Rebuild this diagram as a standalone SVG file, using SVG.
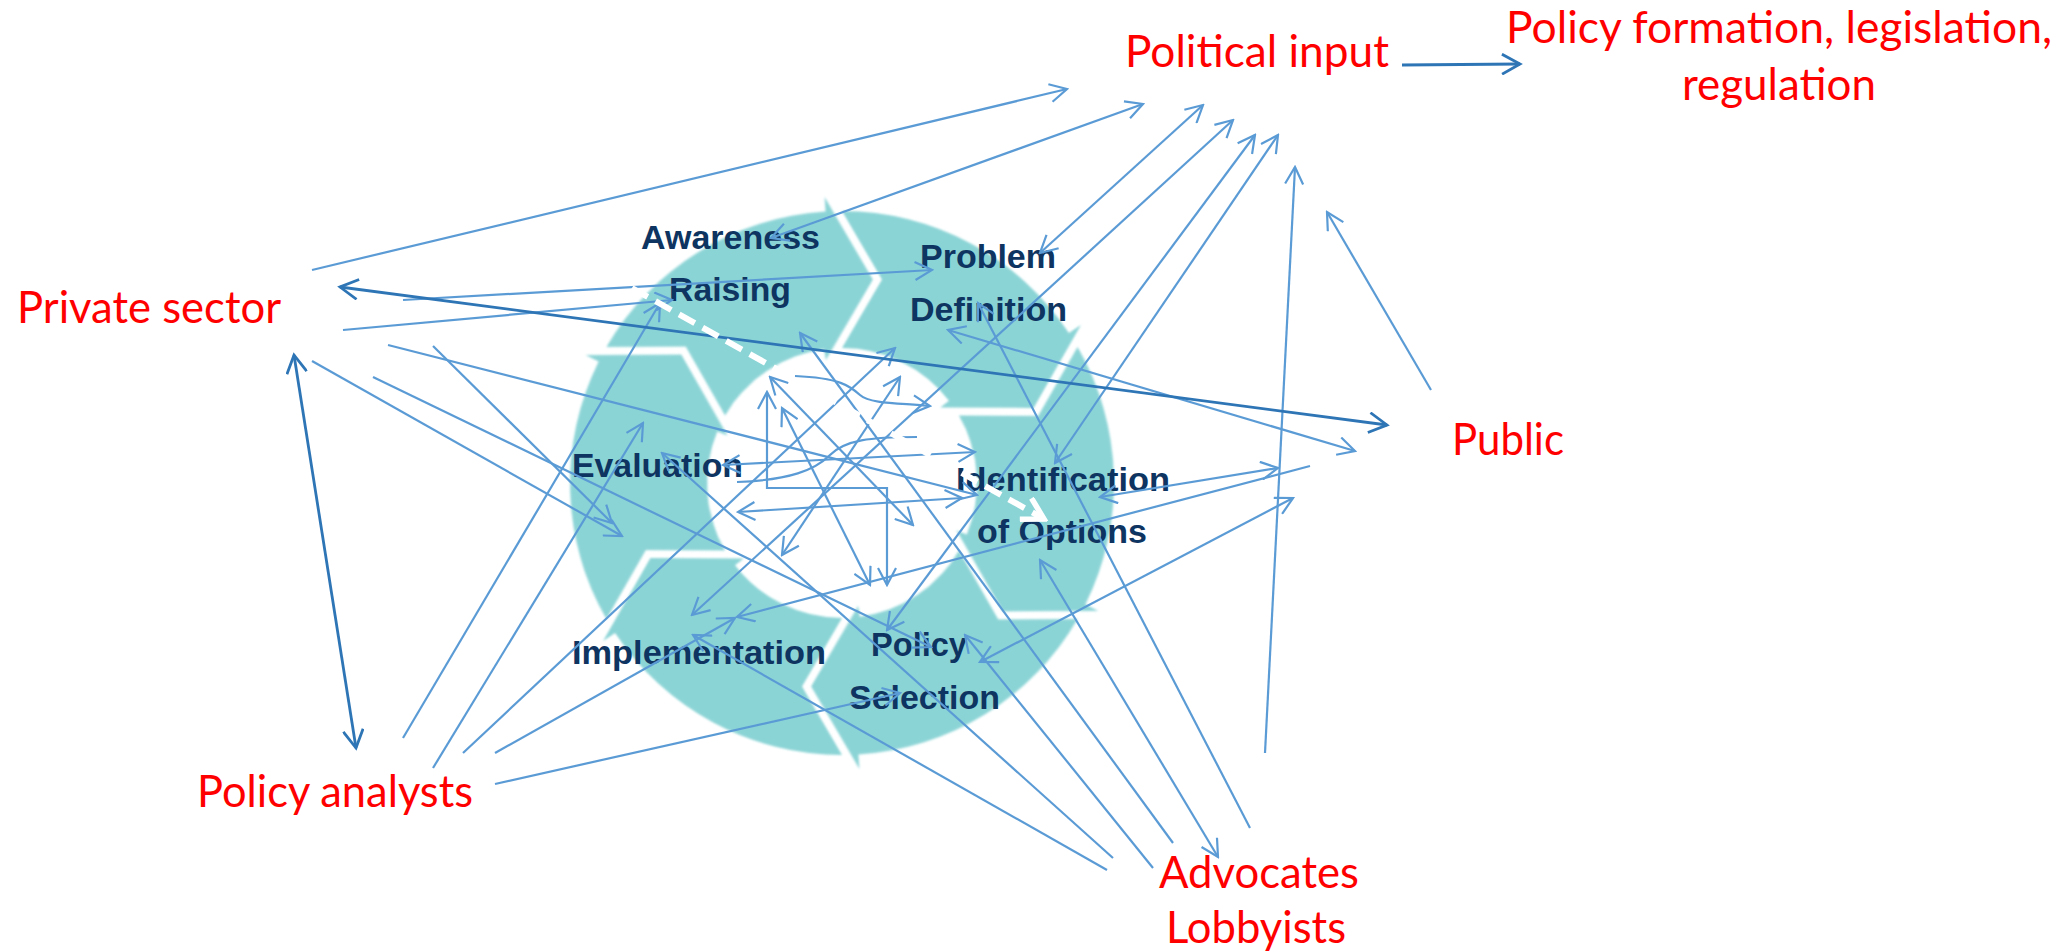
<svg xmlns="http://www.w3.org/2000/svg" xmlns:xlink="http://www.w3.org/1999/xlink" width="2065" height="952" viewBox="0 0 2065 952">
<style>
.seg{fill:#8bd4d6}
.st{font-family:"Liberation Sans",Arial,sans-serif;font-weight:bold;font-size:33px;fill:#0e3461}
.lbl{font-family:Lato,"Liberation Sans",sans-serif;font-size:44px;fill:#ff0000}
.c{fill:none;stroke:#5b9bd5;stroke-width:2.2}
.dk{fill:none;stroke:#2e75b6;stroke-width:2.8}
.e{marker-end:url(#ah)}
.b{marker-start:url(#ah);marker-end:url(#ah)}
.de{marker-end:url(#ahd)}
.db{marker-start:url(#ahd);marker-end:url(#ahd)}
.wd{fill:none;stroke:#ffffff;stroke-width:6;stroke-dasharray:18 9;marker-end:url(#ahw)}
</style>
<defs>
<path id="seg" d="M0,-272 A272,272 0 0 1 226.9,-150.0 L238.9,-157.9 L191.6,-75.1 L98.3,-75.6 L107.0,-82.3 A135,135 0 0 0 0,-135 L40,-203.5 Z"/>
<marker id="ah" viewBox="0 0 20 20" refX="18" refY="10" markerWidth="20" markerHeight="20" markerUnits="userSpaceOnUse" orient="auto-start-reverse"><path d="M1,1 L18,10 L1,19" fill="none" stroke="#5b9bd5" stroke-width="2.2"/></marker>
<marker id="ahd" viewBox="0 0 22 22" refX="19" refY="11" markerWidth="22" markerHeight="22" markerUnits="userSpaceOnUse" orient="auto-start-reverse"><path d="M1,1 L19,11 L1,21" fill="none" stroke="#2e75b6" stroke-width="2.8"/></marker>
<marker id="ahw" viewBox="0 0 28 28" refX="24" refY="14" markerWidth="28" markerHeight="28" markerUnits="userSpaceOnUse" orient="auto"><path d="M3,2 L24,14 L3,26" fill="none" stroke="#ffffff" stroke-width="5.5"/></marker>
<filter id="soft" x="-5%" y="-5%" width="110%" height="110%"><feGaussianBlur stdDeviation="0.8"/></filter>
</defs>
<rect width="2065" height="952" fill="#ffffff"/>

<g id="stage-awareness">
<use xlink:href="#seg" class="seg" filter="url(#soft)" transform="translate(842 483) rotate(-60)"/>
<text class="st" x="641" y="249" textLength="179" lengthAdjust="spacingAndGlyphs">Awareness</text>
<text class="st" x="669" y="301" textLength="122" lengthAdjust="spacingAndGlyphs">Raising</text>
</g>
<g id="stage-problem">
<use xlink:href="#seg" class="seg" filter="url(#soft)" transform="translate(842 483)"/>
<text class="st" x="920" y="268" textLength="136" lengthAdjust="spacingAndGlyphs">Problem</text>
<text class="st" x="910" y="321" textLength="157" lengthAdjust="spacingAndGlyphs">Definition</text>
</g>
<g id="stage-identification">
<use xlink:href="#seg" class="seg" filter="url(#soft)" transform="translate(842 483) rotate(60)"/>
<text class="st" x="956" y="491" textLength="214" lengthAdjust="spacingAndGlyphs">Identification</text>
<text class="st" x="977" y="543" textLength="170" lengthAdjust="spacingAndGlyphs">of Options</text>
</g>
<g id="stage-selection">
<use xlink:href="#seg" class="seg" filter="url(#soft)" transform="translate(842 483) rotate(120)"/>
<text class="st" x="871" y="656" textLength="96" lengthAdjust="spacingAndGlyphs">Policy</text>
<text class="st" x="849" y="709" textLength="151" lengthAdjust="spacingAndGlyphs">Selection</text>
</g>
<g id="stage-implementation">
<use xlink:href="#seg" class="seg" filter="url(#soft)" transform="translate(842 483) rotate(180)"/>
<text class="st" x="572" y="664" textLength="254" lengthAdjust="spacingAndGlyphs">Implementation</text>
</g>
<g id="stage-evaluation">
<use xlink:href="#seg" class="seg" filter="url(#soft)" transform="translate(842 483) rotate(240)"/>
<text class="st" x="572" y="477" textLength="171" lengthAdjust="spacingAndGlyphs">Evaluation</text>
</g>

<g id="actor-political-input"><text class="lbl" x="1125" y="67" textLength="264" lengthAdjust="spacingAndGlyphs">Political input</text></g>
<g id="actor-policy-formation">
<text class="lbl" x="1506" y="43" textLength="546" lengthAdjust="spacingAndGlyphs">Policy formation, legislation,</text>
<text class="lbl" x="1682" y="100" textLength="194" lengthAdjust="spacingAndGlyphs">regulation</text>
</g>
<g id="actor-private-sector"><text class="lbl" x="17" y="323" textLength="264" lengthAdjust="spacingAndGlyphs">Private sector</text></g>
<g id="actor-public"><text class="lbl" x="1452" y="455" textLength="112" lengthAdjust="spacingAndGlyphs">Public</text></g>
<g id="actor-policy-analysts"><text class="lbl" x="197" y="807" textLength="276" lengthAdjust="spacingAndGlyphs">Policy analysts</text></g>
<g id="actor-advocates">
<text class="lbl" x="1159" y="888" textLength="200" lengthAdjust="spacingAndGlyphs">Advocates</text>
<text class="lbl" x="1166" y="943" textLength="180" lengthAdjust="spacingAndGlyphs">Lobbyists</text>
</g>

<g id="connectors">
<path class="c e" d="M312,270 L1067,89"/>
<path class="c b" d="M771,238 L1143,104"/>
<path class="c b" d="M1040,253 L1203,105"/>
<path class="c b" d="M692,615 L1233,120"/>
<path class="c b" d="M887,630 L1255,135"/>
<path class="c b" d="M1055,463 L1278,135"/>
<path class="c e" d="M1265,753 L1295,167"/>
<path class="c e" d="M1431,390 L1327,212"/>
<path class="c e" d="M403,300 L932,270"/>
<path class="c e" d="M343,330 L672,300"/>
<path class="c e" d="M388,345 L977,495"/>
<path class="c e" d="M433,346 L612,523"/>
<path class="c e" d="M312,361 L622,536"/>
<path class="c e" d="M373,377 L931,647"/>
<path class="c e" d="M403,738 L660,303"/>
<path class="c e" d="M433,768 L643,423"/>
<path class="c e" d="M463,753 L895,348"/>
<path class="c e" d="M495,753 L735,618"/>
<path class="c e" d="M495,784 L900,693"/>
<path class="c e" d="M1107,870 L693,635"/>
<path class="c e" d="M1113,858 L662,453"/>
<path class="c e" d="M1153,868 L965,635"/>
<path class="c e" d="M1173,843 L800,333"/>
<path class="c b" d="M1040,560 L1218,857"/>
<path class="c e" d="M1250,828 L978,303"/>
<path class="c b" d="M948,330 L1355,451"/>
<path class="c e" d="M1310,466 L737,617"/>
<path class="c b" d="M1100,497 L1278,468"/>
<path class="c b" d="M980,662 L1293,498"/>
<path class="c b" d="M767,392 V488 H887 V585"/>
<path class="c b" d="M770,377 L913,525"/>
<path class="c b" d="M782,408 L870,585"/>
<path class="c b" d="M723,465 L975,452"/>
<path class="c b" d="M738,512 L962,498"/>
<path class="c b" d="M782,555 L900,377"/>
<path class="c e" d="M795,376 C840,378 850,386 860,395 S900,403 930,406"/>
<path class="c" d="M737,482 C790,480 815,470 830,455 S870,437 917,437"/>
<path class="dk db" d="M340,287 L1387,425"/>
<path class="dk db" d="M294,355 L356,748"/>
<path class="dk de" d="M1402,65 L1520,64"/>
<path class="wd" d="M632,288 L1044,519"/>
</g>
</svg>
